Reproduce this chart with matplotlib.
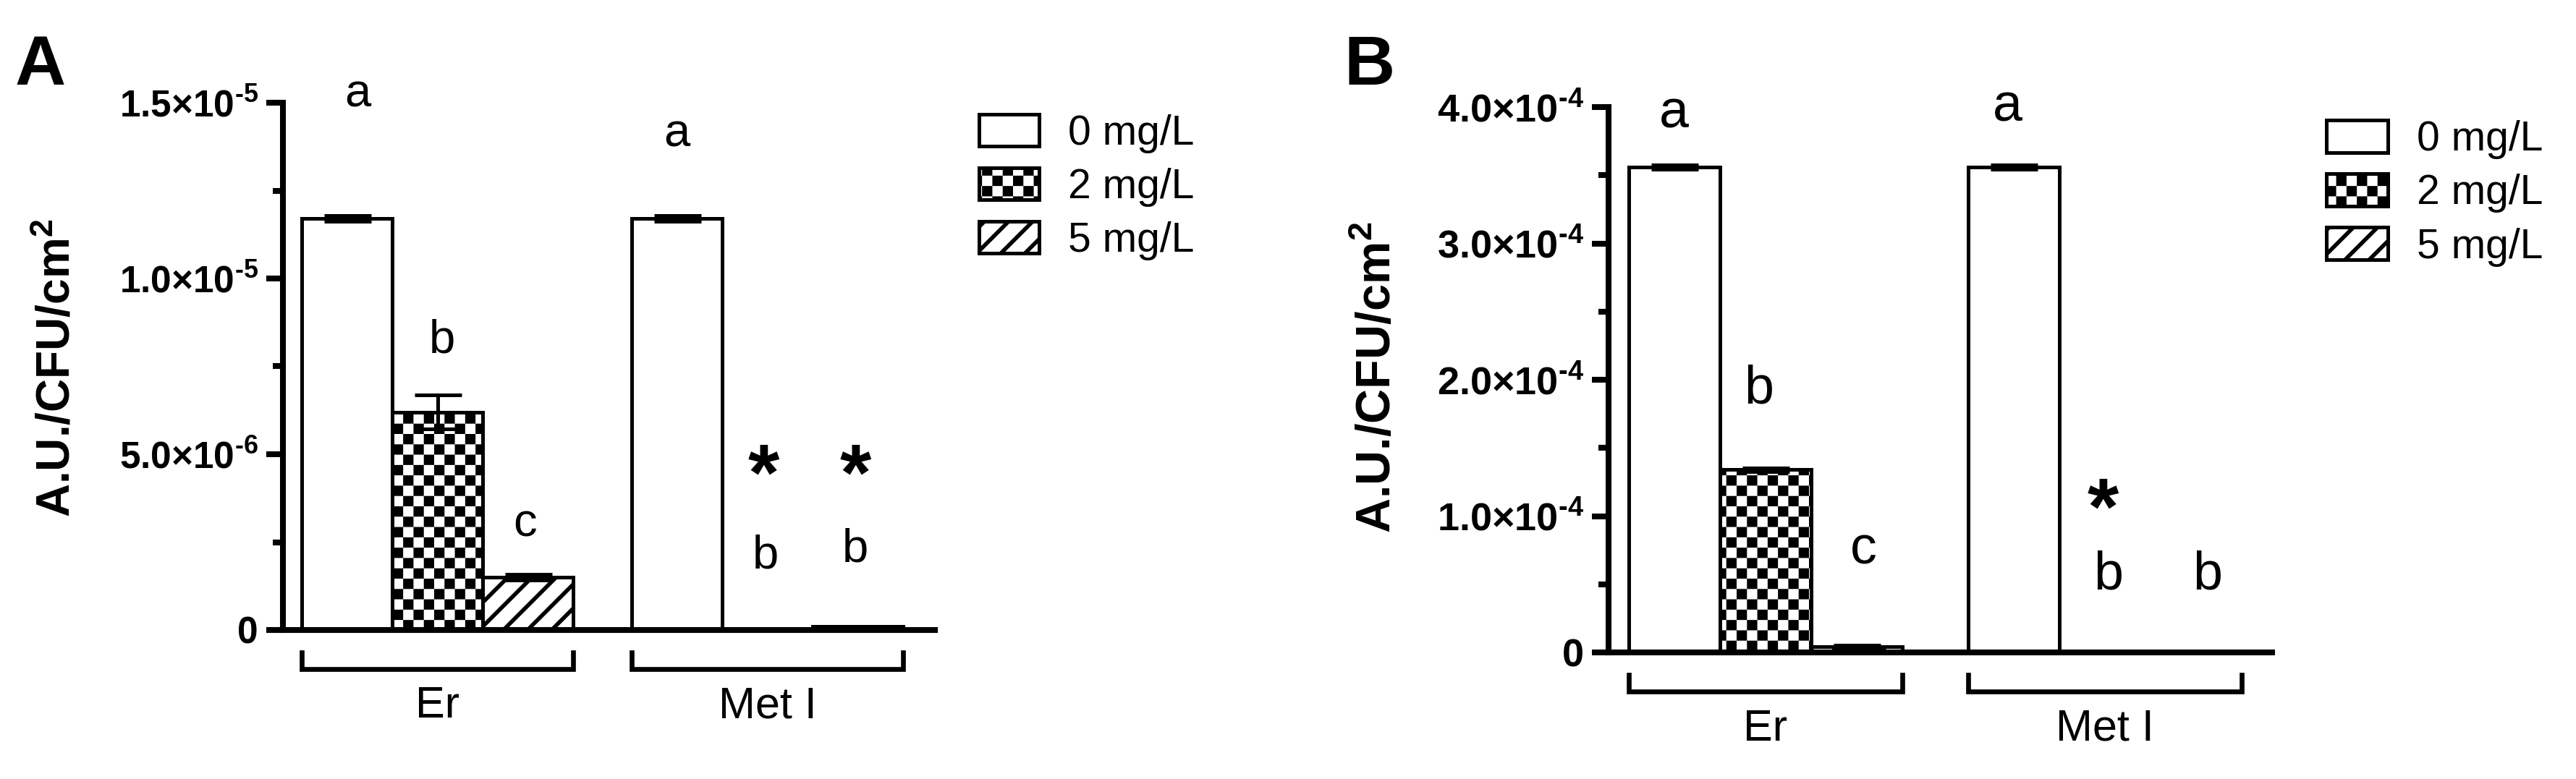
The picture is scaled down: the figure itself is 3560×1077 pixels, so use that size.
import numpy as np
import matplotlib
matplotlib.use('Agg')
import matplotlib.pyplot as plt
import matplotlib.hatch as mhatch
from matplotlib.path import Path
from matplotlib.transforms import blended_transform_factory

plt.rcParams['font.family'] = ['Liberation Sans', 'DejaVu Sans']
plt.rcParams['hatch.linewidth'] = 2.0
plt.rcParams['hatch.color'] = 'black'


def sci(mant, exp):
    # "1.5x10^-5" with a short hyphen in the exponent, like the original
    return '$\\mathregular{' + mant + '\u00d710^{\u2010' + exp + '}}$'


# ---- data ----
groups = ['Er', 'Met I']
doses = ['0 mg/L', '2 mg/L', '5 mg/L']

# panel A: one list per dose, values for [Er, Met I]
a_mean_0 = [1.17e-5, 1.17e-5]
a_mean_2 = [6.2e-6, 1.0e-8]
a_mean_5 = [1.5e-6, 1.0e-7]
a_err_0 = [8e-8, 8e-8]
a_err_2 = [4.8e-7, 0.0]
a_err_5 = [8e-8, 0.0]
a_letters = ['a', 'b', 'c', 'a', 'b', 'b']
a_stars = [False, False, False, False, True, True]
a_yticks = [0, 5e-6, 1e-5, 1.5e-5]
a_yticklabels = ['0', sci('5.0', '6'), sci('1.0', '5'), sci('1.5', '5')]

# panel B
b_mean_0 = [3.56e-4, 3.56e-4]
b_mean_2 = [1.34e-4, 0.0]
b_mean_5 = [4.5e-6, 0.0]
b_err_0 = [1.5e-6, 1.5e-6]
b_err_2 = [1.5e-6, 0.0]
b_err_5 = [1.0e-6, 0.0]
b_letters = ['a', 'b', 'c', 'a', 'b', 'b']
b_stars = [False, False, False, False, True, False]
b_yticks = [0, 1e-4, 2e-4, 3e-4, 4e-4]
b_yticklabels = ['0', sci('1.0', '4'), sci('2.0', '4'), sci('3.0', '4'), sci('4.0', '4')]

ylabel = 'A.U./CFU/cm$\\mathregular{^2}$'


# checkerboard fill: take over the 'o' hatch
class CheckerHatch(mhatch.HatchPatternBase):
    def __init__(self, hatch, density):
        self.num_rows = 14 * hatch.count('o')
        self.num_vertices = (self.num_rows ** 2 // 2) * 5

    def set_vertices_and_codes(self, vertices, codes):
        n = self.num_rows
        step = 1.0 / n
        inset = plt.rcParams['hatch.linewidth'] / 72.0 / 2
        sq = np.array([[inset, inset], [step - inset, inset], [step - inset, step - inset],
                       [inset, step - inset], [inset, inset]])
        sq_codes = [Path.MOVETO, Path.LINETO, Path.LINETO, Path.LINETO, Path.CLOSEPOLY]
        k = 0
        for r in range(n):
            for c in range(n):
                if (r + c) % 2 == 0:
                    vertices[k:k + 5] = sq + [c * step, r * step]
                    codes[k:k + 5] = sq_codes
                    k += 5


mhatch._hatch_types = [CheckerHatch if t is mhatch.SmallCircles else t
                       for t in mhatch._hatch_types]
hatches = ['', 'o', '//']

W, H = 3560, 1077
fig = plt.figure(figsize=(W / 200, H / 200), dpi=200)


def px_axes(left, top, right, bottom):
    return fig.add_axes([left / W, 1 - bottom / H, (right - left) / W, (bottom - top) / H])


def draw_panel(ax, group_x, xlim, means, errs, letters, stars, letter_xy, star_xy,
               yticks, yticklabels, tick_fs, letter_fs):
    bars = []
    for i in range(3):
        b = ax.bar(group_x + i, means[i], width=1.0, color='white', edgecolor='black',
                   linewidth=1.8, hatch=hatches[i], label=doses[i])
        bars.append(b)
        ax.errorbar(group_x + i, means[i], yerr=errs[i], fmt='none', ecolor='black',
                    elinewidth=1.8, capsize=11.7, capthick=1.8)

    ax.set_xlim(*xlim)
    ax.set_ylim(yticks[0], yticks[-1])
    ax.set_yticks(yticks, labels=yticklabels)
    ax.set_yticks([(yticks[j] + yticks[j + 1]) / 2 for j in range(len(yticks) - 1)], minor=True)
    for t in ax.get_yticklabels():
        t.set_fontsize(tick_fs)
        t.set_fontweight('bold')
    ax.tick_params(axis='y', which='major', length=8.3, width=2.9, pad=4)
    ax.tick_params(axis='y', which='minor', length=5, width=2.9)
    ax.tick_params(axis='x', bottom=False, labelbottom=False)
    for s in ['top', 'right']:
        ax.spines[s].set_visible(False)
    for s in ['left', 'bottom']:
        ax.spines[s].set_linewidth(2.9)

    # group brackets and names under the axis
    hpx = ax.get_position().height * H
    trans = blended_transform_factory(ax.transData, ax.transAxes)
    y_top, y_bot, y_txt = -31 / hpx, -54 / hpx, -106 / hpx
    for g, gx in zip(groups, group_x):
        ax.plot([gx - 0.5, gx - 0.5, gx + 2.5, gx + 2.5], [y_top, y_bot, y_bot, y_top],
                color='black', lw=2.4, transform=trans, clip_on=False,
                solid_joinstyle='miter')
        ax.text(gx + 1, y_txt, g, transform=trans, ha='center', va='center', fontsize=22)

    for s, (x, y) in zip(letters, letter_xy):
        ax.text(x, y, s, ha='center', va='center', fontsize=letter_fs, clip_on=False)
    for flag, (x, y) in zip(stars, star_xy):
        if flag:
            ax.text(x, y, '*', ha='center', va='center', fontsize=40, fontweight='bold',
                    clip_on=False)
    return bars


# ---- panel A ----
axA = px_axes(391, 142, 1292, 871)
a_letter_xy = [(0.12, 1.523e-5), (1.05, 8.25e-6), (1.97, 3.02e-6),
               (3.65, 1.41e-5), (4.63, 2.1e-6), (5.62, 2.3e-6)]
a_star_xy = [(0, 0), (0, 0), (0, 0), (0, 0), (4.61, 4.3e-6), (5.62, 4.3e-6)]
barsA = draw_panel(axA, np.array([0.0, 3.65]), (-0.71, 6.5),
                   [a_mean_0, a_mean_2, a_mean_5], [a_err_0, a_err_2, a_err_5],
                   a_letters, a_stars, a_letter_xy, a_star_xy, a_yticks, a_yticklabels,
                   18.5, 23.5)
axA.legend(handles=barsA, labels=doses, loc='upper left', bbox_to_anchor=(1353 / W, 1 - 158 / H),
           bbox_transform=fig.transFigure, frameon=False, fontsize=20.5, borderpad=0,
           borderaxespad=0, handlelength=1.46, handleheight=0.8, handletextpad=0.7,
           labelspacing=0.35)

# ---- panel B ----
axB = px_axes(2223, 148, 3140, 902)
b_letter_xy = [(0.0, 3.952e-4), (0.93, 1.93e-4), (2.07, 0.753e-4),
               (3.65, 4.0e-4), (4.76, 0.57e-4), (5.84, 0.57e-4)]
b_star_xy = [(0, 0), (0, 0), (0, 0), (0, 0), (4.70, 1.02e-4), (0, 0)]
barsB = draw_panel(axB, np.array([0.0, 3.72]), (-0.72, 6.55),
                   [b_mean_0, b_mean_2, b_mean_5], [b_err_0, b_err_2, b_err_5],
                   b_letters, b_stars, b_letter_xy, b_star_xy, b_yticks, b_yticklabels,
                   19.5, 26.5)
axB.legend(handles=barsB, labels=doses, loc='upper left', bbox_to_anchor=(3215 / W, 1 - 166 / H),
           bbox_transform=fig.transFigure, frameon=False, fontsize=20.5, borderpad=0,
           borderaxespad=0, handlelength=1.5, handleheight=0.84, handletextpad=0.7,
           labelspacing=0.35)

# y labels and panel letters
fig.text(97 / W, 1 - 509 / H, ylabel, rotation=90, rotation_mode='anchor', ha='center',
         va='baseline', fontsize=23, fontweight='bold')
fig.text(1922 / W, 1 - 522 / H, ylabel, rotation=90, rotation_mode='anchor', ha='center',
         va='baseline', fontsize=24, fontweight='bold')
fig.text(21 / W, 1 - 117 / H, 'A', fontsize=35, fontweight='bold', va='baseline')
fig.text(1857 / W, 1 - 117 / H, 'B', fontsize=35, fontweight='bold', va='baseline')

fig.savefig('out.png', dpi=200, facecolor='white')
